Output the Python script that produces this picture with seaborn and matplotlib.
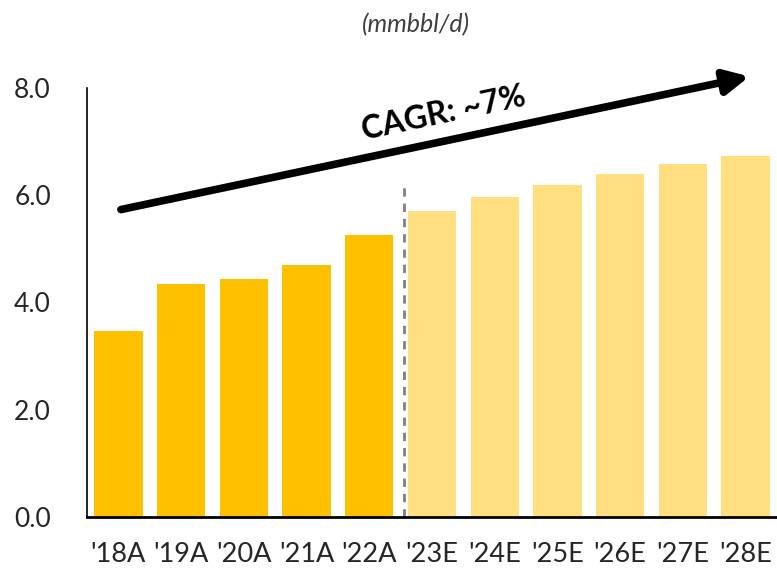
import seaborn as sns
import matplotlib.pyplot as plt
import pandas as pd

# values (mmbbl/d)
years = ["'18A", "'19A", "'20A", "'21A", "'22A",
         "'23E", "'24E", "'25E", "'26E", "'27E", "'28E"]
volumes = [3.46, 4.34, 4.43, 4.70, 5.26, 5.71, 5.97, 6.19, 6.40, 6.58, 6.72]
actual_color = '#FFC000'
estimate_color = '#FFDF80'
colors = [actual_color if y.endswith('A') else estimate_color for y in years]

df = pd.DataFrame({'year': years, 'volume': volumes})

sns.set_style('white')
plt.rcParams['font.family'] = ['Lato', 'DejaVu Sans']

fig = plt.figure(figsize=(7.77, 5.70), dpi=100)
ax = fig.add_axes([0.112, 0.093, 0.888, 0.753])

sns.barplot(data=df, x='year', y='volume', hue='year', palette=colors,
            legend=False, width=0.77, linewidth=0, saturation=1, ax=ax)

ax.set_xlim(-0.5, len(years) - 0.5)
ax.set_ylim(0, 8)
ax.set_yticks([0, 2, 4, 6, 8])
ax.set_yticklabels([f'{v:.1f}' for v in [0, 2, 4, 6, 8]])
ax.set_xlabel('')
ax.set_ylabel('')
ax.tick_params(axis='y', length=0, pad=26, labelsize=19)
ax.tick_params(axis='x', length=0, pad=18, labelsize=19.5)

for side in ['top', 'right']:
    ax.spines[side].set_visible(False)
ax.spines['left'].set_color('black')
ax.spines['left'].set_linewidth(1.2)
ax.spines['bottom'].set_color('black')
ax.spines['bottom'].set_linewidth(2)

# actual / estimate divider
ax.plot([4.55, 4.55], [0, 6.2], color='#808080', lw=2, ls=(0, (3, 2.5)))

# CAGR arrow
ax.annotate('', xy=(10.06, 8.21), xytext=(0.04, 5.73), annotation_clip=False,
            arrowprops=dict(arrowstyle='-|>', lw=5.5, color='black',
                            mutation_scale=36, shrinkA=0, shrinkB=0))
ax.text(5.18, 7.52, 'CAGR: ~7%', rotation=12, ha='center', va='center',
        fontsize=23, fontweight='bold', color='black')

fig.text(0.535, 0.957, '(mmbbl/d)', ha='center', va='center',
         fontsize=18, style='italic', color='#404040')

fig.savefig('out.png', dpi=100)
